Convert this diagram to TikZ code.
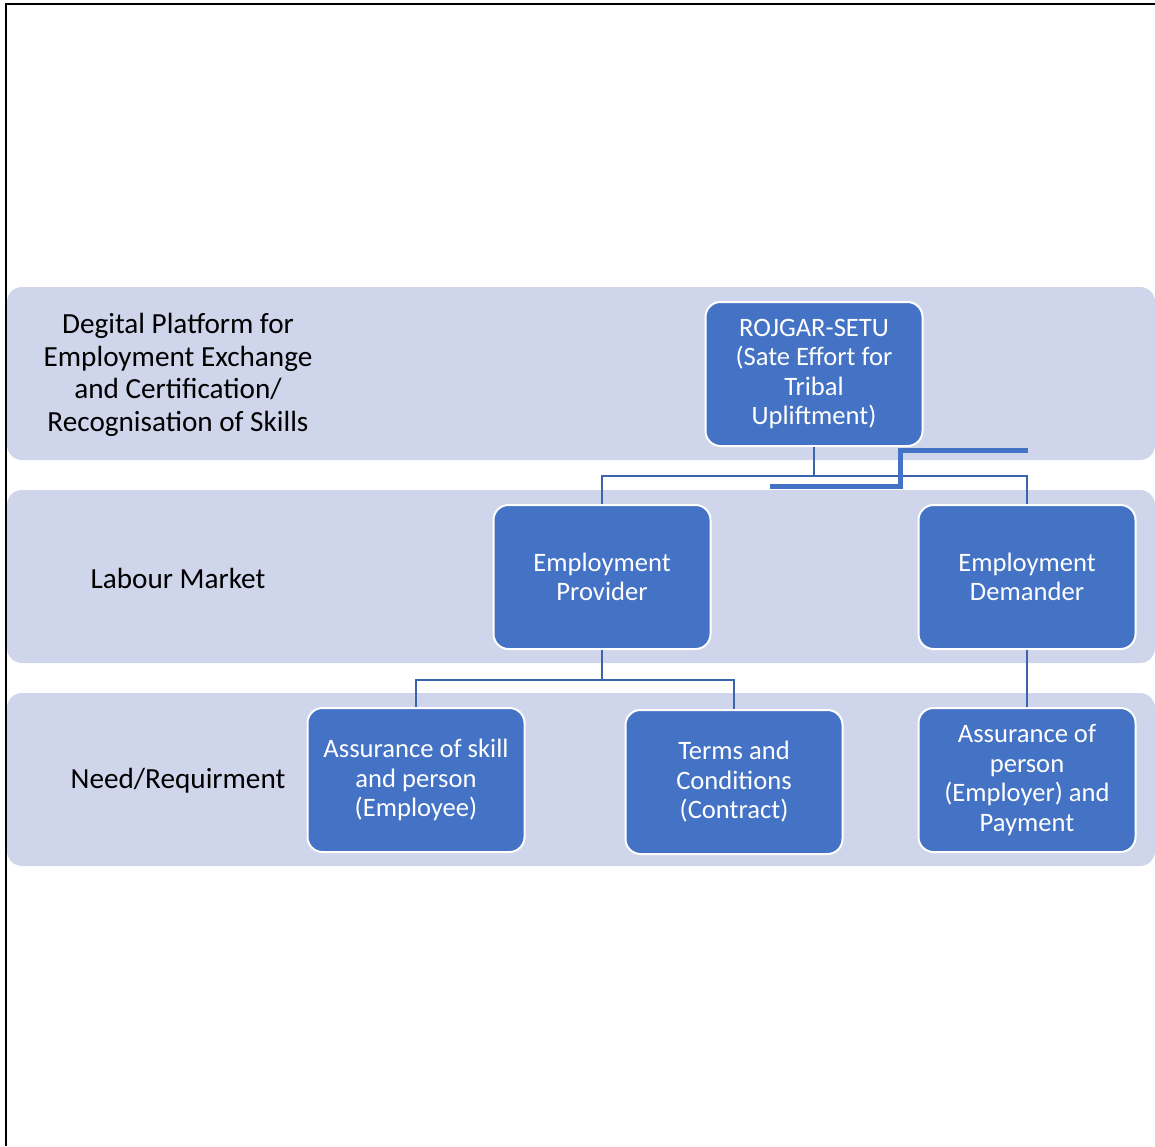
\documentclass[tikz,border=0pt]{standalone}
\usepackage{fontspec}
\setmainfont{Carlito}
\usepackage{tikz}
\definecolor{bandblue}{HTML}{CFD5EA}
\definecolor{boxblue}{HTML}{4472C4}
\definecolor{linkblue}{HTML}{3C64AE}

\begin{document}
\begin{tikzpicture}[x=1pt,y=-1pt,
    band/.style={fill=bandblue,rounded corners=15pt},
    rowlabel/.style={align=center,font=\fontsize{29.2}{32.5}\selectfont},
    unit/.style={draw=white,line width=2pt,fill=boxblue,rounded corners=15pt,
      minimum width=217pt,minimum height=144pt,align=center,text=white,
      font=\fontsize{26.6}{29.5}\selectfont},
    link/.style={draw=linkblue,line width=2pt}]
    \useasboundingbox (0,0) rectangle (1155,1146);
    \draw[line width=2.5pt] (1155,4) -- (6,4) -- (6,1146);
    \fill[band] (7,287) rectangle (1155,460);
    \fill[band] (7,490) rectangle (1155,663);
    \fill[band] (7,693) rectangle (1155,866);
    \node[rowlabel] (platform) at (178,375)
      {Degital Platform for\\Employment Exchange\\and Certification/\\Recognisation of Skills};
    \node[rowlabel] (market) at (178,578) {Labour Market};
    \node[rowlabel] (need) at (178,781) {Need/Requirment};
    \node[unit] (rojgar) at (814,374)
      {ROJGAR-SETU\\(Sate Effort for\\Tribal\\Upliftment)};
    \node[unit] (provider) at (602,577) {Employment\\Provider};
    \node[unit] (demander) at (1027,577) {Employment\\Demander};
    \node[unit] (skill) at (416,780) {Assurance of skill\\and person\\(Employee)};
    \node[unit] (terms) at (734,782) {Terms and\\Conditions\\(Contract)};
    \node[unit] (payment) at (1027,780) {Assurance of\\person\\(Employer) and\\Payment};
    \draw[link] (rojgar.south) -- ++(0,29) -| (provider.north);
    \draw[link] (rojgar.south) ++(0,29) -| (demander.north);
    \draw[link] (provider.south) -- ++(0,30) -| (skill.north);
    \draw[link] (provider.south) ++(0,30) -| (terms.north);
    \draw[link] (demander.south) -- (payment.north);
    \draw[boxblue,line width=5pt] (770,486) -- (900,486) -- (900,450) -- (1028,450);
  \end{tikzpicture}
\end{document}
